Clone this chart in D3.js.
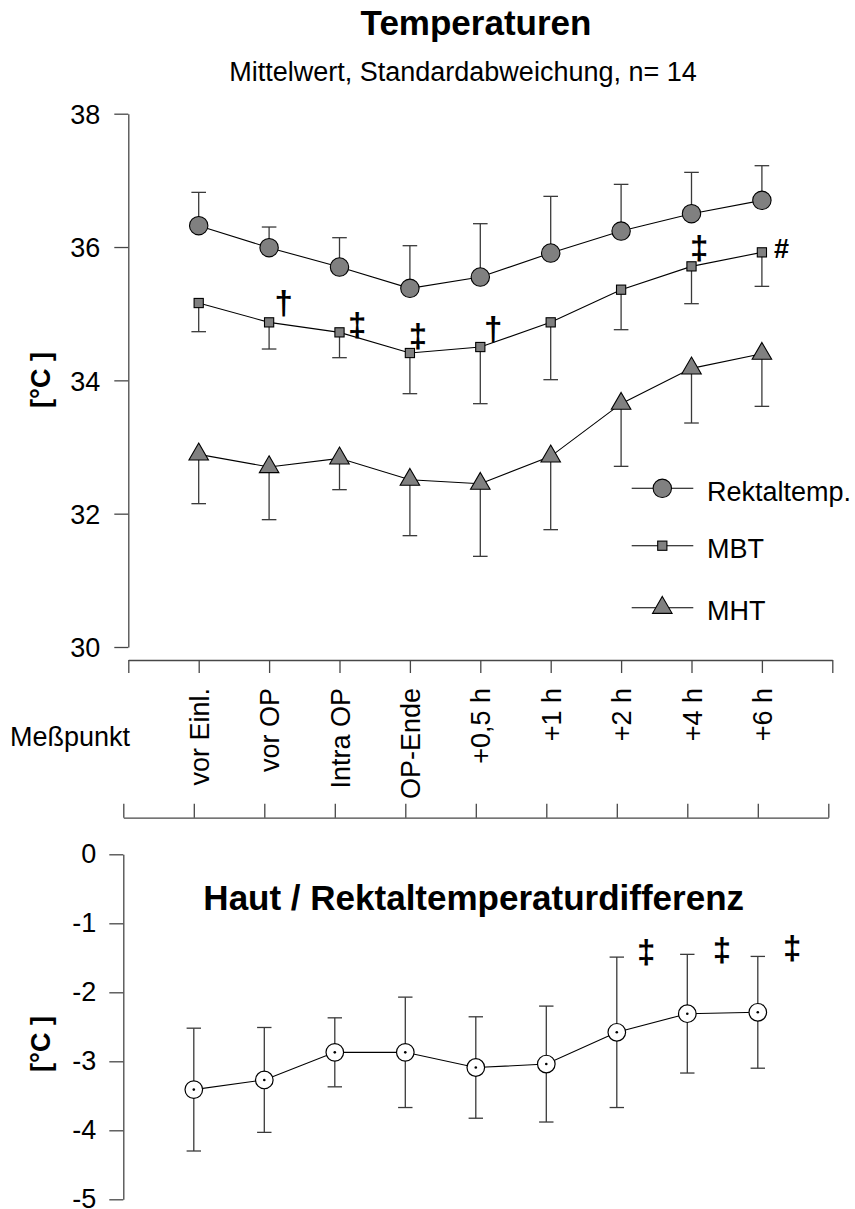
<!DOCTYPE html>
<html>
<head>
<meta charset="utf-8">
<script src="https://cdn.jsdelivr.net/npm/d3@7"></script>
<style>
  html, body { margin: 0; padding: 0; background: #fff; }
  svg { display: block; font-family: "Liberation Sans", Arial, Helvetica, sans-serif; }
</style>
</head>
<body>
<svg id="chart" width="855" height="1209"></svg>
<script>
// Measurement points (x axis categories)
const categories = ["vor Einl.", "vor OP", "Intra OP", "OP-Ende", "+0,5 h", "+1 h", "+2 h", "+4 h", "+6 h"];

// Upper panel: mean and standard deviation, °C
const rektalMean = [36.32, 35.99, 35.70, 35.38, 35.55, 35.91, 36.24, 36.50, 36.70];
const rektalSD   = [0.50, 0.31, 0.44, 0.64, 0.80, 0.85, 0.70, 0.62, 0.52];
const mbtMean    = [35.16, 34.87, 34.72, 34.41, 34.50, 34.87, 35.36, 35.71, 35.92];
const mbtSD      = [0.43, 0.40, 0.38, 0.61, 0.85, 0.86, 0.60, 0.56, 0.51];
const mhtMean    = [32.89, 32.70, 32.83, 32.51, 32.45, 32.86, 33.65, 34.18, 34.40];
const mhtSD      = [0.74, 0.79, 0.47, 0.84, 1.09, 1.10, 0.94, 0.82, 0.79];

// Lower panel: skin / rectal temperature difference, °C
const diffMean = [-3.41, -3.27, -2.87, -2.87, -3.09, -3.04, -2.58, -2.31, -2.29];
const diffSD   = [0.89, 0.76, 0.50, 0.80, 0.735, 0.84, 1.09, 0.86, 0.81];

// Axis ticks
const topTicks = [30, 32, 34, 36, 38];
const bottomTicks = [0, -1, -2, -3, -4, -5];

// Significance symbols (series, point index, symbol)
const topMarks = [
  { series: "MBT", idx: 1, sym: "\u2020" },
  { series: "MBT", idx: 2, sym: "\u2021" },
  { series: "MBT", idx: 3, sym: "\u2021" },
  { series: "MBT", idx: 4, sym: "\u2020" },
  { series: "MBT", idx: 7, sym: "\u2021" },
  { series: "MBT", idx: 8, sym: "#" }
];
const bottomMarks = [
  { idx: 6, sym: "\u2021" },
  { idx: 7, sym: "\u2021" },
  { idx: 8, sym: "\u2021" }
];

// ---------- drawing ----------
const svg = d3.select("#chart");
const FILL = "#808080";
const AX = "#474747";
const FONT = 27;
const fmt = d => String(d); // plain hyphen-minus for negative ticks

// Upper panel scales
const xTop = d3.scaleLinear().domain([0, 10]).range([128.3, 832.3]);
const yTop = d3.scaleLinear().domain([30, 38]).range([647, 113.7]);

// Lower panel scales
const xBot = d3.scaleLinear().domain([0, 10]).range([123.3, 828.3]);
const yBot = d3.scaleLinear().domain([-5, 0]).range([1199.3, 854.3]);

function styleAxis(g) {
  g.selectAll("path.domain").attr("stroke", AX).attr("stroke-width", 1.3);
  g.selectAll(".tick line").attr("stroke", AX).attr("stroke-width", 1.3);
  g.selectAll(".tick text").attr("font-size", FONT).attr("fill", "#000")
    .attr("font-family", "'Liberation Sans', Arial, sans-serif");
}

// Titles
svg.append("text").attr("x", 476).attr("y", 35).attr("text-anchor", "middle")
  .attr("font-size", 35).attr("font-weight", "bold").text("Temperaturen");
svg.append("text").attr("x", 463).attr("y", 81).attr("text-anchor", "middle")
  .attr("font-size", FONT).text("Mittelwert, Standardabweichung, n= 14");

// Upper y axis
const gyTop = svg.append("g").attr("transform", `translate(${xTop(0)},0)`)
  .call(d3.axisLeft(yTop).tickValues(topTicks).tickSize(14).tickSizeOuter(0).tickPadding(14)
    .tickFormat(fmt));
styleAxis(gyTop);
gyTop.selectAll(".tick text").attr("dy", "0.36em");

// Upper x axis (ticks only)
const gxTop = svg.append("g").attr("transform", `translate(0,660)`)
  .call(d3.axisBottom(xTop).tickValues(d3.range(0, 11)).tickSize(13).tickSizeOuter(0).tickFormat(""));
styleAxis(gxTop);

// Lower x axis (ticks only, pointing up)
const gxBot = svg.append("g").attr("transform", `translate(0,817.7)`)
  .call(d3.axisTop(xBot).tickValues(d3.range(0, 11)).tickSize(14).tickSizeOuter(0).tickFormat(""));
styleAxis(gxBot);

// Category labels between the two axes
svg.append("g").selectAll("text").data(categories).join("text")
  .attr("transform", (d, i) => `translate(${xTop(i + 1) + 10},688) rotate(-90)`)
  .attr("text-anchor", "end").attr("font-size", FONT).text(d => d);

svg.append("text").attr("x", 10).attr("y", 746).attr("font-size", FONT).text("Meßpunkt");

// Y axis titles
svg.append("text").attr("transform", `translate(50,380) rotate(-90)`)
  .attr("text-anchor", "middle").attr("font-size", FONT).attr("font-weight", "bold").text("[°C ]");
svg.append("text").attr("transform", `translate(50,1044) rotate(-90)`)
  .attr("text-anchor", "middle").attr("font-size", FONT).attr("font-weight", "bold").text("[°C ]");

// Upper panel series
const series = [
  { name: "Rektaltemp.", mean: rektalMean, sd: rektalSD, dir: -1, shape: "circle" },
  { name: "MBT", mean: mbtMean, sd: mbtSD, dir: 1, shape: "square" },
  { name: "MHT", mean: mhtMean, sd: mhtSD, dir: 1, shape: "triangle" }
];

function drawMarker(sel, shape) {
  if (shape === "circle") {
    sel.append("circle").attr("r", 9.2).attr("fill", FILL).attr("stroke", "#000").attr("stroke-width", 1.1);
  } else if (shape === "square") {
    sel.append("rect").attr("x", -4.6).attr("y", -4.6).attr("width", 9.2).attr("height", 9.2)
      .attr("fill", FILL).attr("stroke", "#000").attr("stroke-width", 1.1);
  } else {
    sel.append("path").attr("d", d3.symbol(d3.symbolTriangle, 165)())
      .attr("fill", FILL).attr("stroke", "#000").attr("stroke-width", 1.1);
  }
}

const line = d3.line().x((d, i) => xTop(i + 1)).y(d => yTop(d));

series.forEach(s => {
  const g = svg.append("g");
  // one-sided error bars
  const eb = g.append("g").attr("stroke", "#3a3a3a").attr("stroke-width", 1.3);
  s.mean.forEach((m, i) => {
    const x = xTop(i + 1);
    const yEnd = yTop(m - s.dir * s.sd[i]);
    eb.append("line").attr("x1", x).attr("x2", x).attr("y1", yTop(m)).attr("y2", yEnd);
    eb.append("line").attr("x1", x - 7.3).attr("x2", x + 7.3).attr("y1", yEnd).attr("y2", yEnd);
  });
  g.append("path").datum(s.mean).attr("d", line).attr("fill", "none")
    .attr("stroke", "#000").attr("stroke-width", 1.1);
  s.mean.forEach((m, i) => {
    const mk = g.append("g").attr("transform", `translate(${xTop(i + 1)},${yTop(m)})`);
    drawMarker(mk, s.shape);
  });
});

// Significance symbols, upper panel (nudges from their point, font size)
const topNudge = [[14.7, -8.7, 33], [17.7, 3.4, 33], [8, -5.6, 33], [13, -6.6, 33], [7.6, -7, 33], [19.7, 5.6, 27]];
svg.append("g").selectAll("text").data(topMarks).join("text")
  .attr("x", (d, i) => xTop(d.idx + 1) + topNudge[i][0])
  .attr("y", (d, i) => yTop(series.find(s => s.name === d.series).mean[d.idx]) + topNudge[i][1])
  .attr("text-anchor", "middle").attr("font-size", (d, i) => topNudge[i][2])
  .attr("font-weight", "bold").text(d => d.sym);

// Legend
const legRows = [488.3, 545.7, 607.7];
series.forEach((s, k) => {
  const g = svg.append("g").attr("transform", `translate(0,${legRows[k]})`);
  g.append("line").attr("x1", 631.7).attr("x2", 693.3).attr("stroke", "#000").attr("stroke-width", 1.1);
  drawMarker(g.append("g").attr("transform", "translate(662.3,0)"), s.shape);
  g.append("text").attr("x", 707).attr("y", 12.6).attr("font-size", FONT).text(s.name);
});

// Lower panel
const gyBot = svg.append("g").attr("transform", `translate(${xBot(0)},0)`)
  .call(d3.axisLeft(yBot).tickValues(bottomTicks).tickSize(14).tickSizeOuter(0).tickPadding(13)
    .tickFormat(fmt));
styleAxis(gyBot);
gyBot.selectAll(".tick text").attr("dy", "0.3em");

svg.append("text").attr("x", 473.7).attr("y", 910).attr("text-anchor", "middle")
  .attr("font-size", 35).attr("font-weight", "bold").text("Haut / Rektaltemperaturdifferenz");

const gb = svg.append("g");
const ebB = gb.append("g").attr("stroke", "#3a3a3a").attr("stroke-width", 1.3);
diffMean.forEach((m, i) => {
  const x = xBot(i + 1);
  const y1 = yBot(m + diffSD[i]), y2 = yBot(m - diffSD[i]);
  ebB.append("line").attr("x1", x).attr("x2", x).attr("y1", y1).attr("y2", y2);
  ebB.append("line").attr("x1", x - 7.2).attr("x2", x + 7.2).attr("y1", y1).attr("y2", y1);
  ebB.append("line").attr("x1", x - 7.2).attr("x2", x + 7.2).attr("y1", y2).attr("y2", y2);
});
gb.append("path").datum(diffMean)
  .attr("d", d3.line().x((d, i) => xBot(i + 1)).y(d => yBot(d)))
  .attr("fill", "none").attr("stroke", "#000").attr("stroke-width", 1.1);
diffMean.forEach((m, i) => {
  const mk = gb.append("g").attr("transform", `translate(${xBot(i + 1)},${yBot(m)})`);
  mk.append("circle").attr("r", 8.8).attr("fill", "#fff").attr("stroke", "#000").attr("stroke-width", 1.2);
  mk.append("circle").attr("r", 1.3).attr("fill", "#000");
});

const botNudge = [[29.3, -69.6], [34.7, -53], [34.4, -53.6]];
svg.append("g").selectAll("text").data(bottomMarks).join("text")
  .attr("x", (d, i) => xBot(d.idx + 1) + botNudge[i][0])
  .attr("y", (d, i) => yBot(diffMean[d.idx]) + botNudge[i][1])
  .attr("text-anchor", "middle").attr("font-size", 33).attr("font-weight", "bold").text(d => d.sym);
</script>
</body>
</html>
